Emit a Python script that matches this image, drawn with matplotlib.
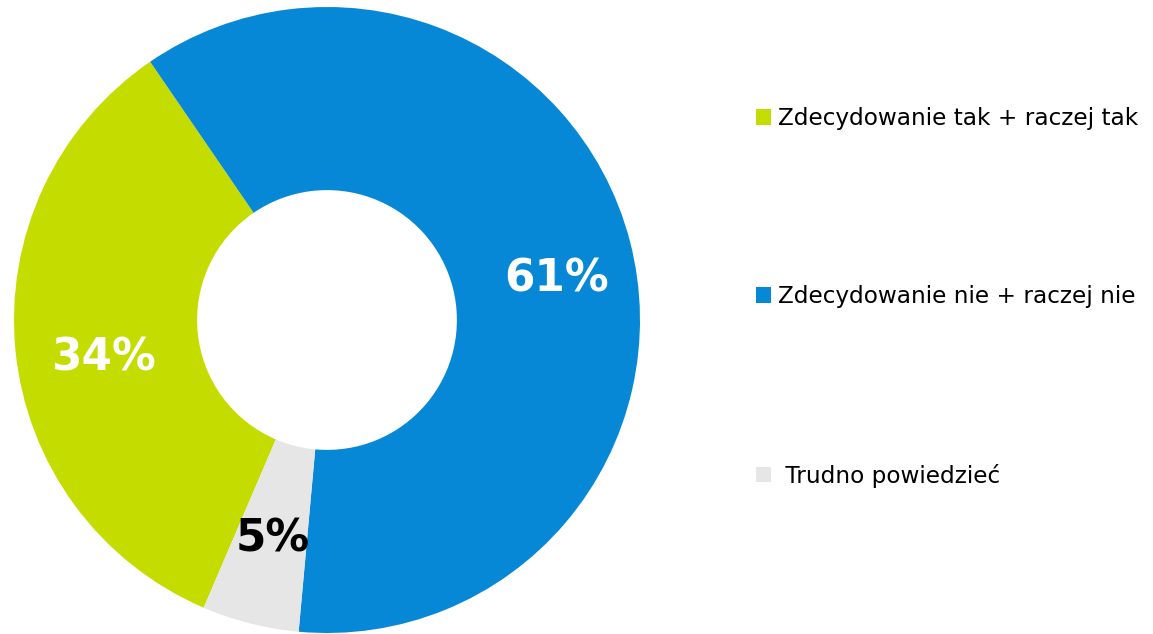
import matplotlib
matplotlib.use('Agg')
import matplotlib.pyplot as plt
from matplotlib.patches import Patch

labels = ['Zdecydowanie tak + raczej tak', 'Zdecydowanie nie + raczej nie', ' Trudno powiedzieć']
values = [34, 61, 5]
colors = ['#C4DC00', '#0788D6', '#E6E6E6']
label_colors = ['white', 'white', 'black']

fig = plt.figure(figsize=(11.53, 6.34), dpi=100)
ax = fig.add_axes([14 / 1153, 1 / 634, 626 / 1153, 626 / 634])

wedges, texts, autotexts = ax.pie(
    values, colors=colors, startangle=-113.2, counterclock=False,
    radius=1, autopct='%d%%', pctdistance=0.73,
    wedgeprops=dict(width=0.585, linewidth=0),
    textprops=dict(fontsize=31.5, fontweight='bold', family='DejaVu Sans'))
for t, c in zip(autotexts, label_colors):
    t.set_color(c)
# hand-tuned spots for the percentage labels
autotexts[0].set_position((-0.715, -0.12))
autotexts[1].set_position((0.735, 0.13))
autotexts[2].set_position((-0.175, -0.70))

ax.set_xlim(-1, 1)
ax.set_ylim(-1, 1)
ax.set_aspect('equal')
ax.axis('off')

handles = [Patch(facecolor=c, edgecolor='none') for c in colors]
fig.legend(handles, labels, loc='center left', bbox_to_anchor=(735 / 1153, 0.531),
           frameon=False, labelspacing=6.7,
           handlelength=0.65, handleheight=0.65, handletextpad=0.3,
           prop=dict(family='DejaVu Sans', size=16.7))

fig.savefig('out.png', dpi=100)
